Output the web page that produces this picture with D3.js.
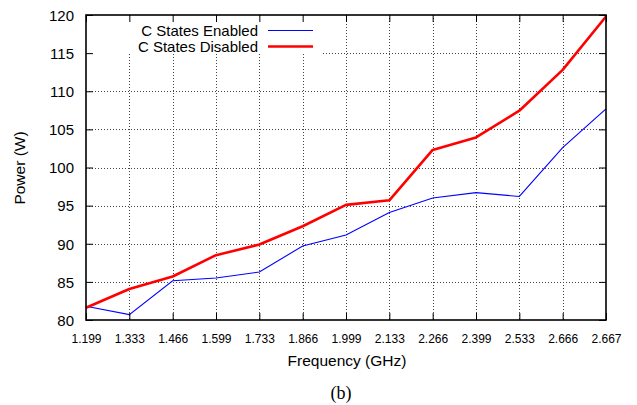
<!DOCTYPE html>
<html><head><meta charset="utf-8">
<script src="https://cdn.jsdelivr.net/npm/d3@7"></script>
<style>body{margin:0;background:#fff}svg{display:block}</style>
</head><body>
<script>
const categories = ["1.199","1.333","1.466","1.599","1.733","1.866","1.999","2.133","2.266","2.399","2.533","2.666","2.667"];
const enabled  = [81.8, 80.7, 85.15, 85.5, 86.3, 89.7, 91.15, 94.1, 96.0, 96.7, 96.2, 102.6, 107.7];
const disabled = [81.6, 84.07, 85.7, 88.5, 89.9, 92.3, 95.1, 95.7, 102.3, 103.95, 107.45, 112.8, 119.8];
const yTicks = [80,85,90,95,100,105,110,115,120];
const seriesNames = ["C States Enabled","C States Disabled"];

const W=637,H=405;
const L=86,R=606,T=15,B=320;
const svg=d3.select("body").append("svg").attr("width",W).attr("height",H);
const x=d3.scalePoint().domain(categories).range([L,R]);
const y=d3.scaleLinear().domain([80,120]).range([B,T]);
const font="Liberation Sans, Arial, Helvetica, sans-serif";

// grid
const grid=svg.append("g").attr("stroke","#444").attr("stroke-width",1).attr("stroke-dasharray","1,2");
grid.selectAll("line.v").data(categories.slice(1,-1)).join("line")
  .attr("x1",d=>Math.round(x(d))+0.5).attr("x2",d=>Math.round(x(d))+0.5).attr("y1",T).attr("y2",B);
grid.selectAll("line.h").data(yTicks.slice(1,-1)).join("line")
  .attr("y1",d=>Math.round(y(d))+0.5).attr("y2",d=>Math.round(y(d))+0.5).attr("x1",L).attr("x2",R);

// opaque key background
svg.append("rect").attr("x",L+1).attr("y",T+1).attr("width",236).attr("height",38).attr("fill","#fff");

// lines
const line=d3.line().x((d,i)=>x(categories[i])).y(d=>y(d));
svg.append("path").datum(enabled).attr("d",line).attr("fill","none").attr("stroke","#0000ff").attr("stroke-width",1.1);
svg.append("path").datum(disabled).attr("d",line).attr("fill","none").attr("stroke","#ff0000").attr("stroke-width",2.6).attr("stroke-linejoin","round");

// axes with inner ticks (mirrored)
const tl=7;
const axB=svg.append("g").attr("transform",`translate(0,${B})`)
  .call(d3.axisBottom(x).tickSizeInner(-tl).tickSizeOuter(0).tickPadding(14));
const axT=svg.append("g").attr("transform",`translate(0,${T})`)
  .call(d3.axisTop(x).tickSizeInner(-tl).tickSizeOuter(0).tickFormat(""));
const axL=svg.append("g").attr("transform",`translate(${L},0)`)
  .call(d3.axisLeft(y).tickValues(yTicks).tickSizeInner(-tl).tickSizeOuter(0).tickPadding(12));
const axR=svg.append("g").attr("transform",`translate(${R},0)`)
  .call(d3.axisRight(y).tickValues(yTicks).tickSizeInner(-tl).tickSizeOuter(0).tickFormat(""));
[axB,axT,axL,axR].forEach(a=>{a.select(".domain").remove();a.selectAll("line").attr("stroke","#000").attr("stroke-width",1);});
axB.selectAll("text").attr("font-family",font).attr("font-size",12).attr("fill","#000");
axL.selectAll("text").attr("font-family",font).attr("font-size",15).attr("fill","#000").attr("dy","0.35em");

// frame
svg.append("rect").attr("x",L).attr("y",T).attr("width",R-L).attr("height",B-T)
  .attr("fill","none").attr("stroke","#000").attr("stroke-width",1.6);

// legend
const lg=[{n:seriesNames[0],c:"#0000ff",w:1.1,yy:30.5},{n:seriesNames[1],c:"#ff0000",w:2.6,yy:46.5}];
lg.forEach(d=>{
  svg.append("text").attr("x",258).attr("y",d.yy).attr("dy","0.35em").attr("text-anchor","end")
    .attr("font-family",font).attr("font-size",15).text(d.n);
  svg.append("line").attr("x1",268).attr("x2",313).attr("y1",d.yy).attr("y2",d.yy).attr("stroke",d.c).attr("stroke-width",d.w);
});

// axis titles
svg.append("text").attr("x",347).attr("y",361).attr("dy","0.35em").attr("text-anchor","middle")
  .attr("font-family",font).attr("font-size",15.5).text("Frequency (GHz)");
svg.append("text").attr("transform","translate(20,168) rotate(-90)").attr("dy","0.35em").attr("text-anchor","middle")
  .attr("font-family",font).attr("font-size",15.5).text("Power (W)");
svg.append("text").attr("x",341).attr("y",393).attr("dy","0.35em").attr("text-anchor","middle")
  .attr("font-family","Liberation Serif, Times New Roman, serif").attr("font-size",18).text("(b)");
</script>
</body></html>
